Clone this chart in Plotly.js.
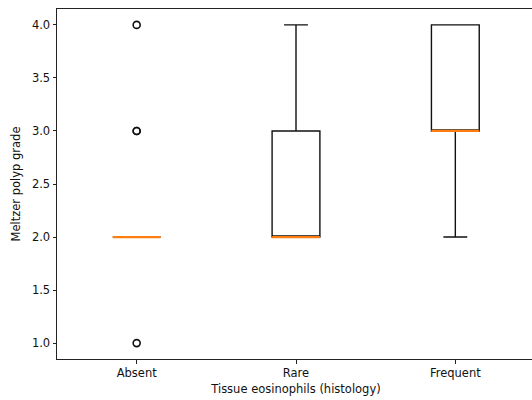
<!DOCTYPE html>
<html>
<head>
<meta charset="utf-8">
<script src="https://cdn.plot.ly/plotly-3.0.1.min.js"></script>
<style>
html, body { margin: 0; padding: 0; overflow: hidden; background: #fff; }
#chart { width: 540px; height: 400px; }
</style>
</head>
<body>
<div id="chart"></div>
<script>
// Data
var categories = ["Absent", "Rare", "Frequent"];
var positions = [1, 2, 3];
var q1 = [2, 2, 3];
var medians = [2, 2, 3];
var q3 = [2, 3, 4];
var lowerWhisker = [2, 2, 2];
var upperWhisker = [2, 4, 4];
var outlierCategory = [1, 1, 1, 1];
var outlierValues = [4, 3, 3, 1];
var yTicks = [1.0, 1.5, 2.0, 2.5, 3.0, 3.5, 4.0];

var boxWidth = 0.3;
var font = "DejaVu Sans, Liberation Sans, sans-serif";

var medX = [], medY = [];
for (var i = 0; i < positions.length; i++) {
  medX.push(positions[i] - boxWidth / 2, positions[i] + boxWidth / 2, null);
  medY.push(medians[i], medians[i], null);
}

var traces = [
  {
    type: "box",
    x: positions,
    q1: q1,
    median: medians,
    q3: q3,
    lowerfence: lowerWhisker,
    upperfence: upperWhisker,
    width: boxWidth,
    whiskerwidth: 0.5,
    boxpoints: false,
    line: { color: "#111111", width: 1.4 },
    fillcolor: "rgba(0,0,0,0)",
    hoverinfo: "skip",
    showlegend: false
  },
  {
    type: "scatter",
    mode: "lines",
    x: medX,
    y: medY,
    line: { color: "#ff7f0e", width: 2.2 },
    hoverinfo: "skip",
    showlegend: false
  },
  {
    type: "scatter",
    mode: "markers",
    x: outlierCategory,
    y: outlierValues,
    marker: { symbol: "circle-open", size: 7, color: "#111111", line: { width: 1.6, color: "#111111" } },
    hoverinfo: "skip",
    showlegend: false
  }
];

var layout = {
  width: 540,
  height: 400,
  margin: { l: 57, r: 5, t: 9, b: 41 },
  paper_bgcolor: "#fff",
  plot_bgcolor: "#fff",
  font: { family: font, size: 11.5, color: "#111" },
  showlegend: false,
  xaxis: {
    range: [0.5, 3.5],
    tickvals: positions,
    ticktext: categories,
    showgrid: false,
    zeroline: false,
    showline: true,
    mirror: true,
    linecolor: "#222",
    linewidth: 1,
    ticks: "outside",
    ticklen: 3.5,
    tickwidth: 1,
    tickcolor: "#222",
    tickfont: { family: font, size: 11.5, color: "#111" },
    title: { text: "Tissue eosinophils (histology)", font: { family: font, size: 11.5, color: "#111" }, standoff: 5 }
  },
  yaxis: {
    range: [0.85, 4.15],
    tickvals: yTicks,
    tickformat: ".1f",
    showgrid: false,
    zeroline: false,
    showline: true,
    mirror: true,
    linecolor: "#222",
    linewidth: 1,
    ticks: "outside",
    ticklen: 3.5,
    tickwidth: 1,
    tickcolor: "#222",
    tickfont: { family: font, size: 11.5, color: "#111" },
    title: { text: "Meltzer polyp grade", font: { family: font, size: 11.5, color: "#111" }, standoff: 8 }
  }
};

Plotly.newPlot("chart", traces, layout, { staticPlot: true, displayModeBar: false });
</script>
</body>
</html>
